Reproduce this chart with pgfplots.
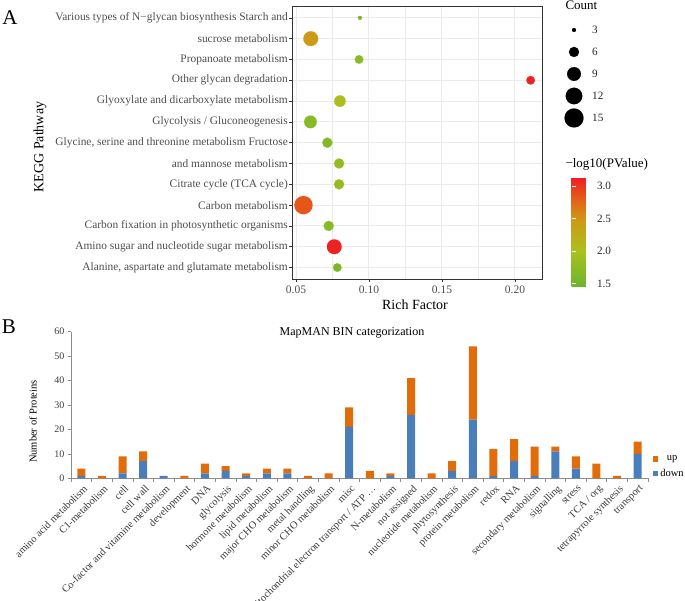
\documentclass[border=0pt]{standalone}
\usepackage{fontspec}
\setmainfont{Liberation Serif}
\usepackage{pgfplots}
\pgfplotsset{compat=1.18}
\usepackage{pgfplotstable}

\definecolor{gridA}{HTML}{EBEBEB}
\definecolor{frameA}{HTML}{333333}
\definecolor{txtA}{HTML}{4D4D4D}
\definecolor{upOr}{HTML}{E26B0A}
\definecolor{downBl}{HTML}{4A7EBB}
\definecolor{axB}{HTML}{8C8C8C}
\definecolor{txtB}{HTML}{3A3A3A}

\pgfplotsset{
  colormap={kegg}{rgb255(145)=(106,180,46) rgb255(200)=(170,193,30)
    rgb255(250)=(208,150,22) rgb255(280)=(228,95,24) rgb255(312)=(238,30,36)},
}

% KEGG enrichment: row id, rich factor, count, -log10(p)
\pgfplotstableread{
id rf count lp
13 0.0938 3 1.60
12 0.0601 10 2.45
11 0.0932 5 1.75
10 0.2107 5 3.10
9 0.0801 7 2.05
8 0.0599 8 1.70
7 0.0715 6 1.65
6 0.0795 6 1.80
5 0.0795 6 1.80
4 0.0551 14 2.85
3 0.0724 6 1.70
2 0.0762 10 3.10
1 0.0783 5 1.60
}\keggdata

% MapMAN bins: down / up proteins
\pgfplotstableread{
id down up
1 1 3
2 0 1
3 2 7
4 7 4
5 1 0
6 0 1
7 2 4
8 3 2
9 1 1
10 2 2
11 2 2
12 0 1
13 0 2
14 21 8
15 0 3
16 1 1
17 26 15
18 0 2
19 3 4
20 24 30
21 1 11
22 7 9
23 1 12
24 11 2
25 4 5
26 0 6
27 0 1
28 10 5
}\mapman

\begin{document}
\begin{tikzpicture}[x=1pt,y=1pt]
\useasboundingbox (0,0) rectangle (685,601);

\node[font=\fontsize{21}{21}\selectfont] at (10,583) {A};
\node[font=\fontsize{21}{21}\selectfont] at (9,274) {B};

% ---- panel A: bubble plot
\begin{axis}[
  at={(292pt,322pt)}, anchor=south west,
  scale only axis, width=250pt, height=273pt,
  xmin=0.04726, xmax=0.2185, ymin=0.45, ymax=13.57,
  xtick={0.05,0.10,0.15,0.20},
  minor xtick={0.075,0.125,0.175},
  ytick={1,...,13},
  yticklabels={Alanine{,} aspartate and glutamate metabolism,
    Amino sugar and nucleotide sugar metabolism,
    Carbon fixation in photosynthetic organisms,
    Carbon metabolism,
    Citrate cycle (TCA cycle),
    and mannose metabolism,
    Glycine{,} serine and threonine metabolism Fructose,
    Glycolysis / Gluconeogenesis,
    Glyoxylate and dicarboxylate metabolism,
    Other glycan degradation,
    Propanoate metabolism,
    sucrose metabolism,
    Various types of N−glycan biosynthesis Starch and},
  /pgf/number format/assume math mode=true,
  xticklabel style={font=\fontsize{11.5}{11.5}\selectfont, color=txtA,
    /pgf/number format/.cd, fixed, fixed zerofill, precision=2},
  yticklabel style={font=\fontsize{11.4}{11.4}\selectfont, color=txtA, inner sep=1pt},
  tick pos=left, tick align=outside,
  major tick length=3pt, minor tick length=0pt,
  tick style={frameA, line width=0.6pt},
  axis line style={frameA, line width=0.8pt},
  grid=both,
  major grid style={gridA, line width=1pt},
  minor grid style={gridA, line width=0.55pt},
  xlabel={Rich Factor}, ylabel={KEGG Pathway},
  xlabel style={font=\fontsize{14}{14}\selectfont, at={(axis description cs:0.492,-0.095)}, anchor=center},
  ylabel style={font=\fontsize{14}{14}\selectfont, at={(axis description cs:-1.008,0.4835)}, anchor=center},
  colormap name=kegg,
  point meta min=1.45, point meta max=3.12,
  colorbar,
  colorbar style={
    at={(parent axis.south east)}, anchor=south west,
    xshift=21pt, yshift=-8pt,
    scale only axis, width=22pt, height=109pt,
    axis line style={draw=none},
    ytick={1.5,2,2.5,3},
    ytick pos=both, yticklabel pos=right,
    tick align=inside, major tick length=4.5pt,
    ytick style={white, line width=0.6pt},
    /pgf/number format/assume math mode=true,
    yticklabel style={font=\fontsize{11.2}{11.2}\selectfont, color=black!85,
      /pgf/number format/.cd, fixed, fixed zerofill, precision=1},
  },
]
\addplot[scatter, only marks, mark=*, point meta=explicit,
  mark options={line width=0.1pt},
  scatter/use mapped color={draw=mapped color, fill=mapped color},
  visualization depends on={sqrt(28.75*\thisrow{count}-70.25)/2 \as \rad},
  scatter/@pre marker code/.append style={/tikz/mark size=\rad pt}]
  table[x=rf, y=id, meta=lp]{\keggdata};
\end{axis}

\node[font=\fontsize{13}{13}\selectfont, anchor=base west] at (562,591) {Count};
\node[font=\fontsize{13}{13}\selectfont, anchor=base west] at (562,433) {−log10(PValue)};

% size legend
\begin{axis}[
  at={(564pt,483pt)}, anchor=south west,
  scale only axis, width=20pt, height=88pt,
  xmin=0, xmax=1, ymin=1, ymax=5, clip=false,
  hide x axis, axis y line*=right, y axis line style={draw=none},
  ytick={1,...,5}, yticklabels={15,12,9,6,3},
  major tick length=0pt,
  yticklabel style={font=\fontsize{11.2}{11.2}\selectfont, color=black!85, anchor=west, inner sep=0pt, xshift=8pt},
]
\addplot[scatter, only marks, mark=*, point meta=\thisrow{count},
  mark options={line width=0.1pt},
  scatter/use mapped color={draw=black, fill=black},
  visualization depends on={sqrt(28.75*\thisrow{count}-70.25)/2 \as \rad},
  scatter/@pre marker code/.append style={/tikz/mark size=\rad pt}]
  table[x=x, y=y]{
x y count
0.5 5 3
0.5 4 6
0.5 3 9
0.5 2 12
0.5 1 15
};
\end{axis}

% ---- panel B: stacked bars
\node[font=\fontsize{12}{12}\selectfont, anchor=base] at (352,265) {MapMAN BIN categorization};
\begin{axis}[
  at={(71pt,122.7pt)}, anchor=south west,
  scale only axis, width=577pt, height=146.6pt,
  ybar stacked, bar width=8pt,
  xmin=0.5, xmax=28.5, ymin=0, ymax=60,
  axis x line*=bottom, axis y line*=left,
  axis line style={axB, line width=0.6pt},
  tick style={axB, line width=0.6pt},
  tick align=outside, major tick length=3pt, minor tick length=4pt,
  xtick={1,...,28},
  major x tick style={draw=none},
  minor xtick={0.5,1.5,...,28.5},
  ytick={0,10,...,60},
  xticklabels={amino acid metabolism, C1-metabolism, cell, cell wall,
    Co-factor and vitamine metabolism, development, DNA, glycolysis,
    hormone metabolism, lipid metabolism, major CHO metabolism,
    metal handling, minor CHO metabolism, misc,
    mitochondrial electron transport / ATP …, N-metabolism, not assigned,
    nucleotide metabolism, phytosynthesis, protein metabolism, redox, RNA,
    secondary metabolism, signalling, stress, TCA / org,
    tetrapyrrole synthesis, transport},
  /pgf/number format/assume math mode=true,
  xticklabel style={font=\fontsize{10.4}{10.4}\selectfont, color=txtB, rotate=45, anchor=north east, inner sep=1pt, yshift=-2pt},
  yticklabel style={font=\fontsize{10}{10}\selectfont, color=txtB},
  ylabel={Number of Proteins},
  ylabel style={font=\fontsize{10.5}{10.5}\selectfont, at={(axis description cs:-0.0659,0.387)}, anchor=center},
  reverse legend,
  legend style={at={(axis description cs:1.008,0.078)}, anchor=west, draw=none, fill=none,
    font=\fontsize{10.5}{10.5}\selectfont, row sep=3pt, inner sep=0pt},
  legend image code/.code={\fill[#1] (0pt,-2.8pt) rectangle (5.6pt,2.8pt);},
]
\addplot[fill=downBl, draw=none] table[x=id, y=down]{\mapman};
\addlegendentry{down}
\addplot[fill=upOr, draw=none] table[x=id, y=up]{\mapman};
\addlegendentry{up}
\end{axis}
\end{tikzpicture}
\end{document}
